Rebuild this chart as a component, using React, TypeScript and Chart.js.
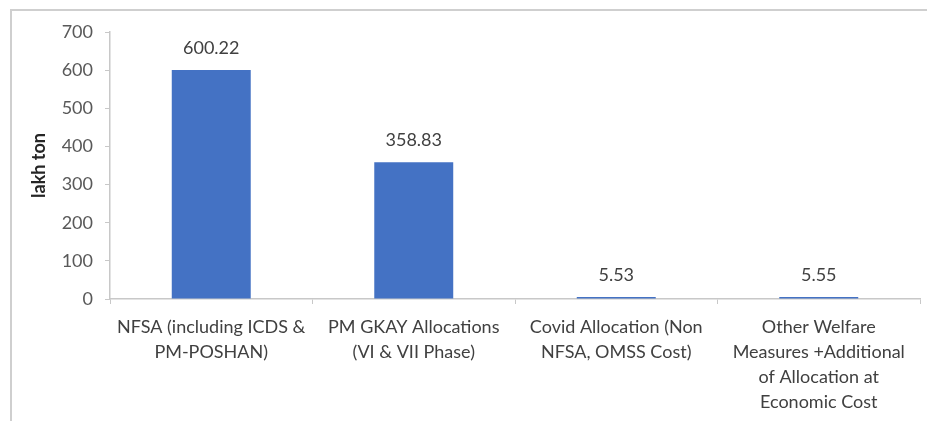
import React, { useEffect, useRef } from "react";
import { Chart, registerables } from "chart.js";

Chart.register(...registerables);

const categories: string[][] = [
  ["NFSA (including ICDS &", "PM-POSHAN)"],
  ["PM GKAY Allocations", "(VI & VII Phase)"],
  ["Covid Allocation (Non", "NFSA, OMSS Cost)"],
  ["Other Welfare", "Measures +Additional", "of Allocation at", "Economic Cost"],
];
const values: number[] = [600.22, 358.83, 5.53, 5.55];
const valueLabels: string[] = ["600.22", "358.83", "5.53", "5.55"];
const yTicks: number[] = [0, 100, 200, 300, 400, 500, 600, 700];

const FONT = "Lato, 'Open Sans', sans-serif";

const framePlugin = {
  id: "frame",
  beforeDraw(chart: any) {
    const ctx = chart.ctx;
    ctx.save();
    ctx.strokeStyle = "#cfcfcf";
    ctx.lineWidth = 2;
    ctx.beginPath();
    ctx.moveTo(11, chart.height);
    ctx.lineTo(11, 10);
    ctx.lineTo(chart.width, 10);
    ctx.stroke();
    ctx.restore();
  },
};

const dataLabelPlugin = {
  id: "dataLabels",
  afterDatasetsDraw(chart: any) {
    const ctx = chart.ctx;
    const meta = chart.getDatasetMeta(0);
    ctx.save();
    ctx.font = `18px ${FONT}`;
    ctx.fillStyle = "#404040";
    ctx.textAlign = "center";
    ctx.textBaseline = "middle";
    meta.data.forEach((el: any, i: number) => {
      ctx.fillText(valueLabels[i], el.x, el.y - 22);
    });
    ctx.restore();
  },
};

export default function App() {
  const ref = useRef<HTMLCanvasElement | null>(null);
  useEffect(() => {
    if (!ref.current) return;
    const chart = new Chart(ref.current, {
      type: "bar",
      data: {
        labels: categories as any,
        datasets: [
          {
            data: values,
            backgroundColor: "#4472C4",
            barPercentage: 1,
            categoryPercentage: 0.39,
          },
        ],
      },
      options: {
        animation: false,
        responsive: true,
        maintainAspectRatio: false,
        layout: { padding: { top: 32, right: 7, left: 0, bottom: 0 } },
        plugins: { legend: { display: false }, tooltip: { enabled: false } },
        scales: {
          x: {
            grid: {
              display: true,
              drawOnChartArea: false,
              drawTicks: true,
              tickLength: 5,
              color: "#c8c8c8",
            },
            border: { display: true, color: "#c8c8c8", width: 1.5 },
            ticks: {
              color: "#404040",
              font: { family: FONT, size: 18, lineHeight: 1.39 },
              padding: 11,
              maxRotation: 0,
              autoSkip: false,
            },
            afterFit: (s: any) => {
              s.height = 122;
            },
          },
          y: {
            min: 0,
            max: 700,
            afterBuildTicks: (s: any) => {
              s.ticks = yTicks.map((v) => ({ value: v }));
            },
            grid: {
              display: true,
              drawOnChartArea: false,
              drawTicks: true,
              tickLength: 5,
              color: "#c8c8c8",
            },
            border: { display: true, color: "#c8c8c8", width: 1.5 },
            ticks: {
              color: "#595959",
              font: { family: FONT, size: 18 },
              padding: 12,
            },
            title: {
              display: true,
              text: "lakh ton",
              color: "#262626",
              font: { family: FONT, size: 18, weight: "bold" },
              padding: { top: 28, bottom: 0 },
            },
            afterFit: (s: any) => {
              s.width = 110;
            },
          },
        },
      },
      plugins: [framePlugin, dataLabelPlugin],
    });
    return () => chart.destroy();
  }, []);
  return (
    <div style={{ position: "absolute", left: 0, top: 0, width: 927, height: 421, background: "#fff" }}>
      <canvas ref={ref} />
    </div>
  );
}
